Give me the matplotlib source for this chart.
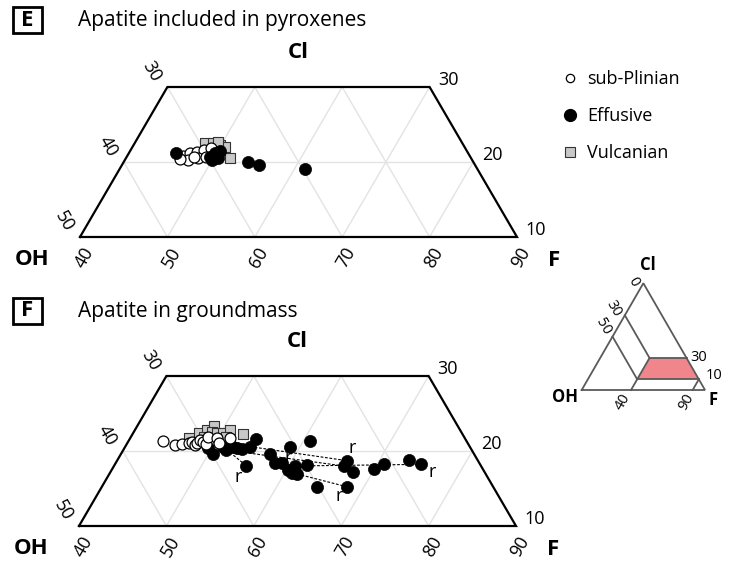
import numpy as np
import matplotlib
matplotlib.use("Agg")
import matplotlib.pyplot as plt
from matplotlib.lines import Line2D
from matplotlib.patches import Rectangle, Polygon

plt.rcParams["font.family"] = ["Open Sans", "DejaVu Sans"]

# --- data (F, Cl in mol%) ---
# E: apatite included in pyroxenes
e_plin_F = [46.4, 47.0, 47.7, 48.4, 49.1, 47.2, 48.2, 46.2, 49.1, 47.7, 50.0]
e_plin_Cl = [20.8, 21.2, 21.33, 21.6, 21.87, 20.27, 20.53, 20.4, 20.67, 20.67, 20.93]
e_eff_F = [45.4, 49.5, 50.5, 49.8, 50.3, 50.0, 54.2, 55.7, 61.2]
e_eff_Cl = [21.2, 20.67, 20.53, 21.2, 21.47, 20.27, 20.0, 19.6, 19.07]
e_vul_F = [48.0, 49.0, 49.9, 50.6, 51.9, 49.5]
e_vul_Cl = [22.53, 22.53, 22.27, 22.0, 20.53, 22.67]

# F: apatite in groundmass
f_plin_F = [43.9, 45.6, 46.3, 47.0, 47.3, 47.9, 48.0, 48.1, 48.6, 49.1, 48.8, 49.9, 50.5, 51.4]
f_plin_Cl = [21.33, 20.8, 20.93, 21.11, 21.24, 20.8, 21.02, 21.47, 21.24, 20.93, 21.91, 21.69, 21.11, 21.78]
f_eff_F = [49.6, 50.6, 51.2, 51.8, 52.4, 52.9, 53.5, 54.3, 54.5, 55.1, 57.1, 58.2, 59.0, 58.9,
           60.7, 60.2, 60.8, 61.5, 62.0, 60.8, 64.6, 66.3, 66.3, 67.7, 68.0, 69.9, 70.8, 73.4, 75.0]
f_eff_Cl = [20.36, 19.56, 20.58, 20.13, 20.49, 20.36, 20.22, 20.58, 21.56, 18.04, 19.56, 18.36, 18.44, 20.58,
            18.0, 17.47, 17.11, 16.93, 18.13, 21.33, 15.24, 18.71, 18.0, 17.24, 15.24, 17.6, 18.27, 18.8, 18.22]
f_vul_F = [46.7, 47.5, 48.2, 48.8, 48.9, 49.6, 50.3, 50.9, 50.9, 52.6, 48.3]
f_vul_Cl = [21.69, 22.36, 22.8, 23.33, 22.58, 22.36, 22.44, 22.8, 21.91, 22.22, 21.91]

# core -> rim pairs (groundmass effusive)
core_F = [54.3, 51.8, 60.7, 61.5, 51.2]
core_Cl = [20.58, 20.13, 18.0, 16.93, 20.58]
rim_F = [66.3, 66.3, 75.0, 68.0, 55.1]
rim_Cl = [18.71, 18.0, 18.22, 15.24, 18.04]
# rims labelled "r"
r_F = [66.3, 75.0, 68.0, 55.1, 58.9]
r_Cl = [18.71, 18.22, 15.24, 18.04, 20.58]
r_off = [(4, 9), (8.5, -5.5), (-5, -7), (-6, -8), (-1.5, -8)]

F_ticks = [40, 50, 60, 70, 80, 90]
OH_ticks = [30, 40, 50]
Cl_ticks = [30, 20, 10]

W, H = 732, 561
S3 = np.sqrt(3) / 2
GRID = "#e3e3e3"


def tern(F, Cl):
    F = np.asarray(F, float)
    Cl = np.asarray(Cl, float)
    return F + Cl / 2, Cl * S3


def panel_axes(fig, left_px, top_px, sx=8.74, sy=8.66):
    y0, y1 = top_px - 87, top_px + 185
    ax = fig.add_axes([0, 1 - y1 / H, 1, (y1 - y0) / H])
    ax.set_xlim(45 - left_px / sx, 45 + (W - left_px) / sx)
    ax.set_ylim(30 * S3 - 185 / sy, 30 * S3 + 87 / sy)
    ax.axis("off")
    return ax


def draw_frame(ax):
    # grid: constant F, constant OH, Cl = 20
    for f in [50, 60, 70, 80]:
        x, y = tern([f, f], [10, min(30, 100 - f)])
        ax.plot(x, y, color=GRID, lw=1, zorder=1)
    for oh in [10, 20, 30, 40]:
        cl_end = min(30, 60 - oh)
        x, y = tern([90 - oh, 100 - oh - cl_end], [10, cl_end])
        ax.plot(x, y, color=GRID, lw=1, zorder=1)
    x, y = tern([40, 80], [20, 20])
    ax.plot(x, y, color=GRID, lw=1, zorder=1)
    x, y = tern([40, 90, 70, 40, 40], [10, 10, 30, 30, 10])
    ax.plot(x, y, color="black", lw=1.6, zorder=2, solid_joinstyle="miter")

    for f in F_ticks:
        ax.annotate(str(f), tern(f, 10), xytext=(3, -15), textcoords="offset points",
                    rotation=60, ha="center", va="center", fontsize=13)
    for oh, cl in zip(OH_ticks, [30, 20, 10]):
        ax.annotate(str(oh), tern(40, cl), xytext=(-11, 11.5), textcoords="offset points",
                    rotation=-60, ha="center", va="center", fontsize=13)
    for cl in Cl_ticks:
        ax.annotate(str(cl), tern(100 - cl, cl), xytext=(6, 5), textcoords="offset points",
                    ha="left", va="center", fontsize=13)
    ax.annotate("Cl", tern(55, 30), xytext=(0, 25), textcoords="offset points",
                ha="center", va="center", fontsize=16, fontweight="bold")
    ax.annotate("OH", tern(40, 10), xytext=(-34.5, -16), textcoords="offset points",
                ha="center", va="center", fontsize=16, fontweight="bold")
    ax.annotate("F", tern(90, 10), xytext=(27, -17), textcoords="offset points",
                ha="center", va="center", fontsize=16, fontweight="bold")


def scatter_groups(ax, plin, eff, vul, order):
    kw = {
        "plin": dict(marker="o", s=62, facecolor="white", edgecolor="black", linewidths=0.9),
        "eff": dict(marker="o", s=76, facecolor="black", edgecolor="black", linewidths=0.5),
        "vul": dict(marker="s", s=48, facecolor="#c8c8c8", edgecolor="#333333", linewidths=0.8),
    }
    data = {"plin": plin, "eff": eff, "vul": vul}
    for z, key in enumerate(order):
        x, y = tern(*data[key])
        ax.scatter(x, y, zorder=5 + z, **kw[key])


def panel_title(fig, top_px, letter, title):
    fig.add_artist(Rectangle((13 / W, 1 - (top_px + 26) / H), 29 / W, 26 / H,
                             transform=fig.transFigure, fill=False, lw=2, ec="black"))
    fig.text(27.5 / W, 1 - (top_px + 13) / H, letter, ha="center", va="center",
             fontsize=16, fontweight="bold")
    fig.text(78 / W, 1 - (top_px + 19) / H, title, ha="left", va="baseline", fontsize=15)


fig = plt.figure(figsize=(W / 100, H / 100), dpi=100)

# panel E
axE = panel_axes(fig, 80, 87)
draw_frame(axE)
scatter_groups(axE, (e_plin_F, e_plin_Cl), (e_eff_F, e_eff_Cl), (e_vul_F, e_vul_Cl),
               ["vul", "plin", "eff"])
panel_title(fig, 7, "E", "Apatite included in pyroxenes")

# panel F
axF = panel_axes(fig, 79, 376)
draw_frame(axF)
for cf, cc, rf, rc in zip(core_F, core_Cl, rim_F, rim_Cl):
    x, y = tern([cf, rf], [cc, rc])
    axF.plot(x, y, color="black", lw=0.8, ls=(0, (2.5, 1.5)), zorder=4)
scatter_groups(axF, (f_plin_F, f_plin_Cl), (f_eff_F, f_eff_Cl), (f_vul_F, f_vul_Cl),
               ["vul", "eff", "plin"])
for f, cl, off in zip(r_F, r_Cl, r_off):
    axF.annotate("r", tern(f, cl), xytext=off, textcoords="offset points",
                 ha="center", va="center", fontsize=13, zorder=9)
panel_title(fig, 298, "F", "Apatite in groundmass")

# legend
handles = [
    Line2D([], [], ls="", marker="o", ms=6, mfc="white", mec="black", mew=0.9),
    Line2D([], [], ls="", marker="o", ms=8.5, mfc="black", mec="black"),
    Line2D([], [], ls="", marker="s", ms=7.5, mfc="#c8c8c8", mec="#333333", mew=0.8),
]
fig.legend(handles, ["sub-Plinian", "Effusive", "Vulcanian"], loc="upper left",
           bbox_to_anchor=(561 / W, 1 - 70 / H), frameon=False, fontsize=13,
           handlelength=1.0, handletextpad=0.45, labelspacing=1.05,
           borderpad=0, borderaxespad=0)

# inset triangle
ox, oy, sc = 581.7, 390, 1.233
axI = fig.add_axes([540 / W, 1 - 420 / H, 192 / W, 170 / H])
axI.set_xlim(-(ox - 540) / sc, (732 - ox) / sc)
axI.set_ylim(-(420 - oy) / sc, (oy - 250) / sc)
axI.axis("off")
x, y = tern([40, 70, 90, 40], [30, 30, 10, 10])
axI.add_patch(Polygon(np.column_stack([x, y]), closed=True, fc="#f0868b", ec="none", zorder=1))
GR = "#5a5a5a"
inset_lines = [
    ([0, 100, 0, 0], [0, 0, 100, 0]),   # outer triangle
    ([0, 40], [70, 30]),                # OH = 30
    ([0, 40], [50, 10]),                # OH = 50
    ([40, 40], [0, 30]),                # F = 40
    ([40, 70], [30, 30]),               # Cl = 30
    ([40, 90], [10, 10]),               # Cl = 10
    ([90, 90], [0, 10]),                # F = 90
]
for fs, cls in inset_lines:
    x, y = tern(fs, cls)
    axI.plot(x, y, color=GR, lw=1.3, zorder=2, solid_joinstyle="miter")
axI.annotate("Cl", tern(0, 100), xytext=(3, 13), textcoords="offset points",
             ha="center", va="center", fontsize=12, fontweight="bold")
axI.annotate("OH", tern(0, 0), xytext=(-12, -5), textcoords="offset points",
             ha="center", va="center", fontsize=12, fontweight="bold")
axI.annotate("F", tern(100, 0), xytext=(6, -7), textcoords="offset points",
             ha="center", va="center", fontsize=12, fontweight="bold")
for lab, cl, off in [("0", 100, (-7, 1)), ("30", 70, (-8.4, 5)), ("50", 50, (-6.5, 7))]:
    axI.annotate(lab, tern(0, cl), xytext=off, textcoords="offset points",
                 rotation=-60, ha="center", va="center", fontsize=10.5)
for f, off in [(40, (-6, -8.6)), (90, (-4.3, -8.6))]:
    axI.annotate(str(f), tern(f, 0), xytext=off, textcoords="offset points",
                 rotation=60, ha="center", va="center", fontsize=10.5)
for cl, off in [(30, (9, 0)), (10, (10.8, 3))]:
    axI.annotate(str(cl), tern(100 - cl, cl), xytext=off, textcoords="offset points",
                 ha="center", va="center", fontsize=10.5)

fig.savefig("out.png", dpi=100)
